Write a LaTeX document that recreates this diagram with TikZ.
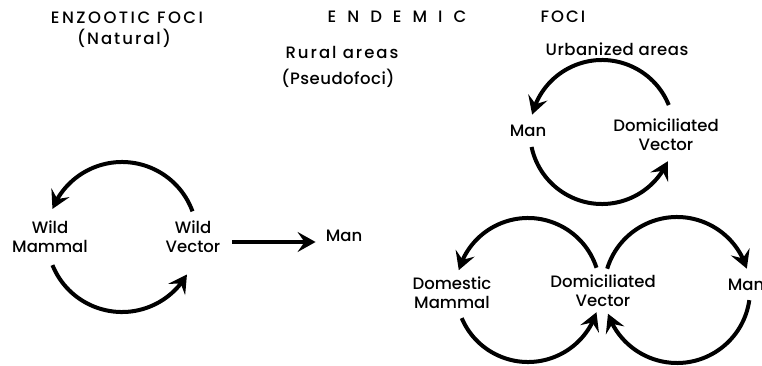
\documentclass[tikz,border=0pt]{standalone}
\usepackage{fontspec}
\setmainfont{Poppins Medium}
\usetikzlibrary{arrows.meta,bending}
\begin{document}
\begin{tikzpicture}[x=1pt,y=1pt,
  lbl/.style={font=\fontsize{16.5}{19}\selectfont, align=center, inner sep=0pt},
  ttl/.style={font=\fontsize{16.5}{19}\selectfont, inner sep=0pt},
  arr/.style={line width=4pt, -{Stealth[length=18pt,width=20pt,inset=7pt,flex]}}]
\useasboundingbox (0,0) rectangle (762,365);
% titles
\node[ttl] (enz) at (127,347) {\addfontfeature{LetterSpace=15}ENZOOTIC FOCI};
\node[ttl] (nat) at (124,327) {\addfontfeature{LetterSpace=12}(Natural)};
\node[ttl] (end) at (397,348) {E\hspace{11pt}N\hspace{11pt}D\hspace{11pt}E\hspace{11pt}M\hspace{11pt}I\hspace{11pt}C};
\node[ttl] (foc) at (563,348) {F\hspace{2pt}O\hspace{2pt}C\hspace{2pt}I};
\node[ttl] (rur) at (342,313) {\addfontfeature{LetterSpace=12}Rural areas};
\node[ttl] (pse) at (338,287) {\addfontfeature{LetterSpace=3}(Pseudofoci)};
\node[ttl] (urb) at (617,316) {\addfontfeature{LetterSpace=3}Urbanized areas};
% enzootic cycle
\coordinate (cA) at (122,128);
\node[lbl] (wm) at (50,128) {Wild\\Mammal};
\node[lbl] (wv) at (193,128) {Wild\\Vector};
\node[lbl] (man1) at (344,129) {Man};
\coordinate (s) at (232,123);
\draw[arr] (s) -- (s -| man1.west) [shorten >=10pt];
\draw[arr] (cA) ++(20:75) arc[start angle=20,end angle=158,radius=75];
\draw[arr] (cA) ++(202:75) arc[start angle=202,end angle=330,radius=75];
% urbanized cycle
\coordinate (cB) at (602,233);
\node[lbl] (man2) at (528,234) {Man};
\node[lbl] (dv1) at (666,230) {Domiciliated\\Vector};
\draw[arr] (cB) ++(22:72) arc[start angle=22,end angle=166,radius=72];
\draw[arr] (cB) ++(192:72) arc[start angle=192,end angle=336,radius=72];
% rural cycles
\coordinate (cC) at (528,75);
\coordinate (cD) at (677,75);
\node[lbl] (dm) at (452,72) {Domestic\\Mammal};
\node[lbl] (dv2) at (603,74) {Domiciliated\\Vector};
\node[lbl] (man3) at (746,80) {Man};
\draw[arr] (cC) ++(18:72) arc[start angle=18,end angle=164,radius=72];
\draw[arr] (cC) ++(203:72) arc[start angle=203,end angle=342,radius=72];
\draw[arr] (cD) ++(163:73) arc[start angle=163,end angle=17,radius=73];
\draw[arr] (cD) ++(-8:73) arc[start angle=-8,end angle=-161,radius=73];
\end{tikzpicture}
\end{document}
